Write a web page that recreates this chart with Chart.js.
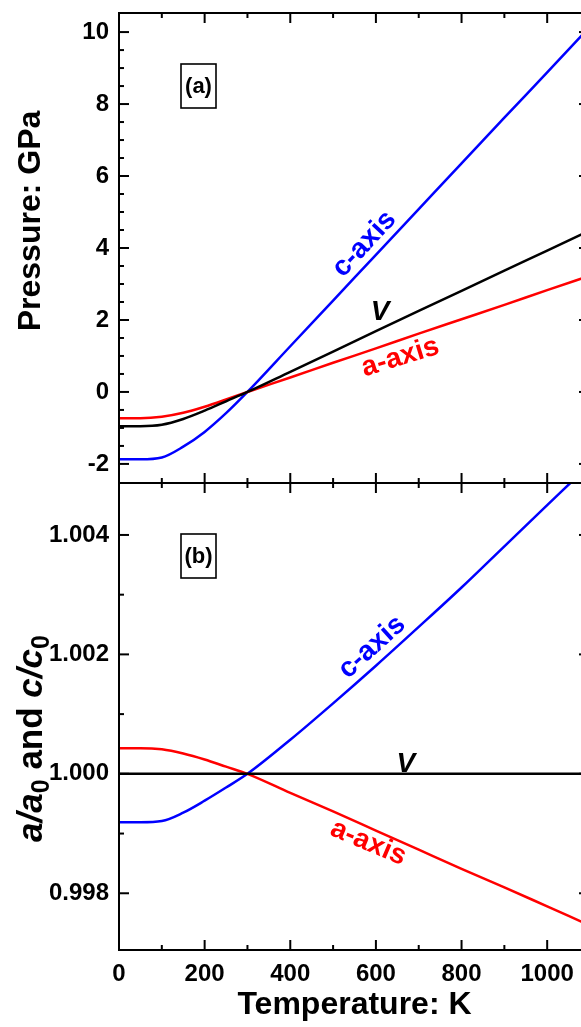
<!DOCTYPE html>
<html>
<head>
<meta charset="utf-8">
<title>Thermal pressure and lattice ratios</title>
<script src="https://cdn.jsdelivr.net/npm/chart.js@4.4.1/dist/chart.umd.min.js"></script>
<style>
    html, body { margin: 0; padding: 0; background: #fff; overflow: hidden; }
    canvas { display: block; }
</style>
</head>
<body>
<canvas id="chart_thermal" width="592" height="1027"></canvas>
<script>
//----------------------------------------------------------------------------------------------------------------------------
// data
//----------------------------------------------------------------------------------------------------------------------------
var temps  = [0, 50, 100, 150, 200, 250, 300, 400, 500, 600, 700, 800, 900, 1000, 1100];   // K
// panel (a): pressure, GPa
var pressC = [-1.87, -1.87, -1.82, -1.52, -1.11, -0.59, 0, 1.27, 2.54, 3.81, 5.08, 6.35, 7.62, 8.88, 10.15];
var pressV = [-0.95, -0.95, -0.91, -0.75, -0.52, -0.26, 0, 0.56, 1.12, 1.69, 2.25, 2.81, 3.37, 3.93, 4.49];
var pressA = [-0.73, -0.73, -0.69, -0.58, -0.41, -0.21, 0, 0.40, 0.81, 1.21, 1.62, 2.02, 2.42, 2.83, 3.23];
// panel (b): a/a0, c/c0 (c-axis curve leaves the frame at ~1054 K)
var tempsC = [0, 50, 100, 150, 200, 250, 300, 400, 500, 600, 700, 800, 900, 1000, 1054];
var ratioC = [0.99919, 0.99919, 0.99921, 0.99935, 0.99955, 0.99977, 1.0, 1.00057, 1.00118, 1.00181, 1.00246, 1.00312, 1.00381, 1.00450, 1.00487];
var ratioA = [1.00043, 1.00043, 1.00041, 1.00034, 1.00024, 1.00012, 1.0, 0.99968, 0.99937, 0.99905, 0.99873, 0.99841, 0.99810, 0.99778, 0.99746];
var ratioV = [1.0, 1.0, 1.0, 1.0, 1.0, 1.0, 1.0, 1.0, 1.0, 1.0, 1.0, 1.0, 1.0, 1.0, 1.0];
// tick labels
var tempTicks  = [0, 200, 400, 600, 800, 1000];
var pressTicks = [-2, 0, 2, 4, 6, 8, 10];
var ratioTicks = [0.998, 1.000, 1.002, 1.004];

var FONT = "'Liberation Sans', Arial, Helvetica, sans-serif";
var BLUE = '#0000ff', RED = '#ff0000', BLACK = '#000000';

// text labels placed in data coordinates
var notes = [
    { text: 'c-axis', axis: 'yA', t: 573, v: 4.11,     rot: -47, color: BLUE },
    { text: 'V',      axis: 'yA', t: 610, v: 2.21,     rot: 0,   color: BLACK, italic: true },
    { text: 'a-axis', axis: 'yA', t: 657, v: 0.96,     rot: -17, color: RED },
    { text: 'c-axis', axis: 'yB', t: 591, v: 1.00212,  rot: -42, color: BLUE },
    { text: 'V',      axis: 'yB', t: 670, v: 1.000167, rot: 0,   color: BLACK, italic: true },
    { text: 'a-axis', axis: 'yB', t: 582, v: 0.998845, rot: 23,  color: RED }
];

function toXY(xs, ys) {
    return xs.map(function (x, i) { return { x: x, y: ys[i] }; });
}

function seg(ctx, x1, y1, x2, y2) {
    ctx.beginPath();
    ctx.moveTo(x1, y1);
    ctx.lineTo(x2, y2);
    ctx.stroke();
}

//----------------------------------------------------------------------------------------------------------------------------
// frame with inward ticks (origin style), drawn from the chart scales
//----------------------------------------------------------------------------------------------------------------------------
var frameTicks = {
    id: 'frameTicks',
    afterDatasetsDraw: function (chart) {
        var ctx = chart.ctx, a = chart.chartArea;
        var sx = chart.scales.x, ya = chart.scales.yA, yb = chart.scales.yB;
        ctx.save();
        ctx.strokeStyle = BLACK;
        ctx.lineWidth = 2;
        ctx.strokeRect(a.left, a.top, a.right - a.left, a.bottom - a.top);
        seg(ctx, a.left, ya.bottom, a.right, ya.bottom);

        for (var t = 0; t <= 1100; t += 100) {
            var px = sx.getPixelForValue(t);
            var len = (t % 200 === 0) ? 10 : 5;
            seg(ctx, px, a.top, px, a.top + len);
            seg(ctx, px, ya.bottom - len, px, ya.bottom + len);
            seg(ctx, px, a.bottom, px, a.bottom - len);
        }

        [[ya, pressTicks, 0.5], [yb, ratioTicks, 0.001]].forEach(function (p) {
            var sc = p[0], majors = p[1], step = p[2];
            majors.forEach(function (v) {
                var py = sc.getPixelForValue(v);
                seg(ctx, a.left, py, a.left + 10, py);
                seg(ctx, a.right, py, a.right - 11, py);
            });
            for (var k = -6; k < 40; k++) {
                var v = majors[0] + k * step;
                var isMajor = majors.some(function (m) { return Math.abs(m - v) < step / 10; });
                var py = sc.getPixelForValue(v);
                if (isMajor || py < sc.top + 3 || py > sc.bottom - 3) continue;
                seg(ctx, a.left, py, a.left + 5, py);
            }
        });
        ctx.restore();
    },
    afterDraw: function (chart) {
        var ctx = chart.ctx, a = chart.chartArea;
        var sx = chart.scales.x, ya = chart.scales.yA, yb = chart.scales.yB;
        ctx.save();

        // panel tags
        [[ya, '(a)'], [yb, '(b)']].forEach(function (p) {
            var bx = a.left + 62, by = p[0].top + 51;
            ctx.lineWidth = 1.6;
            ctx.strokeStyle = BLACK;
            ctx.strokeRect(bx, by, 35, 44);
            ctx.fillStyle = BLACK;
            ctx.font = 'bold 22px ' + FONT;
            ctx.textAlign = 'center';
            ctx.textBaseline = 'middle';
            ctx.fillText(p[1], bx + 17.5, by + 23);
        });

        // curve labels
        notes.forEach(function (n) {
            var sc = chart.scales[n.axis];
            ctx.save();
            ctx.translate(sx.getPixelForValue(n.t), sc.getPixelForValue(n.v));
            ctx.rotate(n.rot * Math.PI / 180);
            ctx.fillStyle = n.color;
            ctx.font = (n.italic ? 'italic ' : '') + 'bold 28px ' + FONT;
            ctx.textAlign = 'center';
            ctx.textBaseline = 'middle';
            ctx.fillText(n.text, 0, 0);
            ctx.restore();
        });

        // y titles
        ctx.fillStyle = BLACK;
        ctx.save();
        ctx.translate(40, (ya.top + ya.bottom) / 2 - 27);
        ctx.rotate(-Math.PI / 2);
        ctx.font = 'bold 32px ' + FONT;
        ctx.textAlign = 'center';
        ctx.textBaseline = 'alphabetic';
        ctx.fillText('Pressure: GPa', 0, 0);
        ctx.restore();

        var parts = [
            ['a/a', 'italic bold 35px ', 0],
            ['0', 'bold 25px ', 7],
            [' and ', 'bold 35px ', 0],
            ['c/c', 'italic bold 35px ', 0],
            ['0', 'bold 25px ', 7]
        ];
        ctx.save();
        ctx.translate(42, (yb.top + yb.bottom) / 2 + 22);
        ctx.rotate(-Math.PI / 2);
        ctx.textAlign = 'left';
        ctx.textBaseline = 'alphabetic';
        var total = 0;
        parts.forEach(function (p) { ctx.font = p[1] + FONT; total += ctx.measureText(p[0]).width; });
        var cx = -total / 2;
        parts.forEach(function (p) {
            ctx.font = p[1] + FONT;
            ctx.fillText(p[0], cx, p[2]);
            cx += ctx.measureText(p[0]).width;
        });
        ctx.restore();

        ctx.restore();
    }
};

function ExceptionHandler(e) {
    console.log('chart error: ' + e.name + ' :: ' + e.message);
}

function DrawThermalChart() {
    try {
        var lineSet = function (label, data, color, axis) {
            return {
                label: label,
                data: data,
                yAxisID: axis,
                borderColor: color,
                borderWidth: 2.5,
                pointRadius: 0,
                fill: false,
                cubicInterpolationMode: 'monotone'
            };
        };
        var tickFont = { family: FONT, size: 24, weight: 'bold' };
        var setTicks = function (vals) {
            return function (s) { s.ticks = vals.map(function (v) { return { value: v }; }); };
        };
        // fixed axis box sizes, no extra label margins
        var fixWidth = function (s) { s.width = 119; s.paddingTop = 0; s.paddingBottom = 0; };
        var fixHeight = function (s) { s.height = 77; s.paddingLeft = 0; s.paddingRight = 0; };

        new Chart(document.getElementById('chart_thermal'), {
            type: 'line',
            data: {
                datasets: [
                    lineSet('V', toXY(temps, pressV), BLACK, 'yA'),
                    lineSet('a-axis', toXY(temps, pressA), RED, 'yA'),
                    lineSet('c-axis', toXY(temps, pressC), BLUE, 'yA'),
                    lineSet('V', toXY(temps, ratioV), BLACK, 'yB'),
                    lineSet('a-axis', toXY(temps, ratioA), RED, 'yB'),
                    lineSet('c-axis', toXY(tempsC, ratioC), BLUE, 'yB')
                ]
            },
            options: {
                responsive: false,
                animation: false,
                layout: { padding: { left: 0, right: 2, top: 13, bottom: 0 } },
                plugins: { legend: { display: false }, tooltip: { enabled: false } },
                scales: {
                    x: {
                        type: 'linear',
                        min: 0,
                        max: 1100,
                        afterBuildTicks: setTicks(tempTicks),
                        afterFit: fixHeight,
                        grid: { display: false, drawTicks: false },
                        border: { display: false },
                        ticks: { font: tickFont, color: BLACK, padding: 10, maxRotation: 0, autoSkip: false,
                                 callback: function (v) { return String(v); } },
                        title: {
                            display: true,
                            text: 'Temperature: K',
                            color: BLACK,
                            font: { family: FONT, size: 32, weight: 'bold' },
                            padding: { top: 0, bottom: 3 }
                        }
                    },
                    yA: {
                        type: 'linear',
                        position: 'left',
                        stack: 'panels',
                        stackWeight: 470,
                        weight: 2,
                        min: -2.53,
                        max: 10.53,
                        afterBuildTicks: setTicks(pressTicks),
                        afterFit: fixWidth,
                        grid: { display: false, drawTicks: false },
                        border: { display: false },
                        ticks: { font: tickFont, color: BLACK, padding: 10,
                                 callback: function (v) { return String(v); } }
                    },
                    yB: {
                        type: 'linear',
                        position: 'left',
                        stack: 'panels',
                        stackWeight: 467,
                        weight: 1,
                        min: 0.99705,
                        max: 1.00487,
                        afterBuildTicks: setTicks(ratioTicks),
                        afterFit: fixWidth,
                        grid: { display: false, drawTicks: false },
                        border: { display: false },
                        ticks: { font: tickFont, color: BLACK, padding: 10,
                                 callback: function (v) { return v.toFixed(3); } }
                    }
                }
            },
            plugins: [frameTicks]
        });
    }
    catch (e) {
        ExceptionHandler(e);
    }
}

DrawThermalChart();
</script>
</body>
</html>
